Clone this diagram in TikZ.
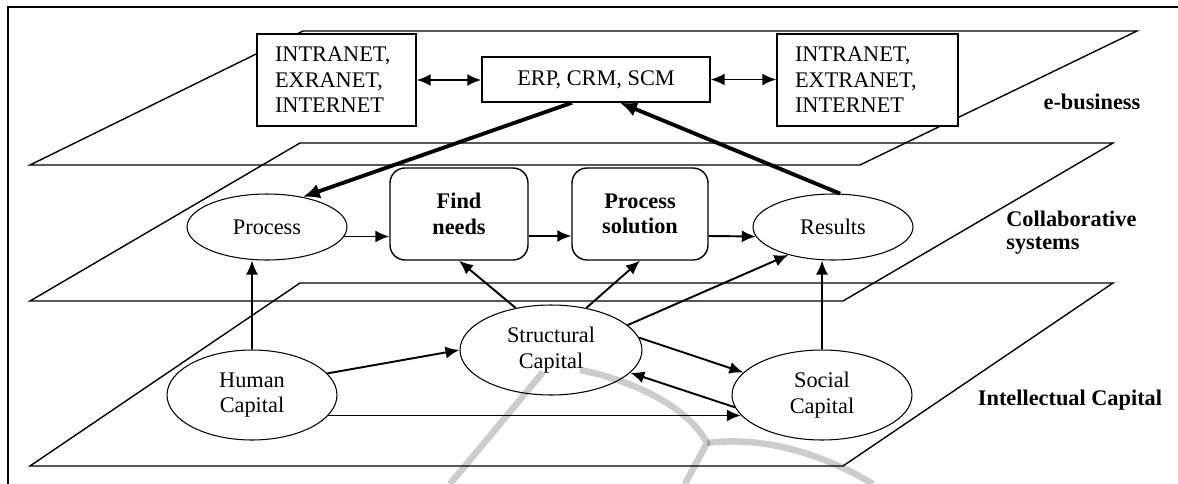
\documentclass[tikz,border=0pt]{standalone}
\usepackage{fontspec}
\setmainfont{Liberation Serif}
\usetikzlibrary{shapes.geometric,arrows.meta,calc}
\begin{document}
\begin{tikzpicture}[x=0.02cm,y=-0.02cm,
 every node/.style={font=\fontsize{12.7}{14.5}\selectfont},
 plane/.style={draw=black,line width=0.8pt,line join=miter},
 sqbox/.style={draw,fill=white,line width=0.8pt,inner sep=0pt},
 rbox/.style={draw,fill=white,rounded corners=0.3cm,line width=0.8pt,minimum width=2.76cm,minimum height=1.84cm,align=center,inner sep=0pt,font=\fontsize{12.7}{14.5}\selectfont\bfseries},
 ell/.style={ellipse,draw,fill=white,line width=0.6pt,inner sep=0pt,align=center},
 arr/.style={-{Latex[length=0.28cm,width=0.24cm]},line width=1.1pt},
 thickarr/.style={-{Latex[length=0.34cm,width=0.3cm]},line width=2.2pt},
 dbl/.style={{Latex[length=0.28cm,width=0.24cm]}-{Latex[length=0.28cm,width=0.24cm]},line width=1.1pt},
 lab/.style={font=\fontsize{12.7}{13}\selectfont\bfseries,inner sep=0pt},
 wm/.style={line width=0.13cm,draw=black,opacity=0.2,line cap=butt}
]
\useasboundingbox (0,0) rectangle (1178,484);
% frame
\draw[line width=1.2pt] (8,484) -- (8,7) -- (1178,7);
% planes
\draw[plane] (30,165) -- (303,31) -- (1137,31) -- (860,165) -- cycle;
\draw[plane] (30,301) -- (300,143) -- (1113,143) -- (843,301) -- cycle;
\draw[plane] (30,466) -- (300,283) -- (1113,283) -- (843,466) -- cycle;
% e-business layer
\node[sqbox, minimum height=1.84cm, text width=2.46cm, align=left, inner xsep=0.36cm] (lnet) at (336.5,80) {INTRANET,\\EXRANET,\\INTERNET};
\node[sqbox, minimum width=4.56cm, minimum height=0.9cm] (erp) at (596,79.5) {ERP, CRM, SCM};
\node[sqbox, minimum height=1.84cm, text width=2.9cm, align=left, inner xsep=0.36cm] (rnet) at (867.5,80) {INTRANET,\\EXTRANET,\\INTERNET};
% collaborative layer
\node[ell, minimum width=3.2cm, minimum height=1.32cm] (proc) at (267,227) {Process};
\node[rbox] (find) at (459,214) {Find\\needs};
\node[rbox, minimum width=2.72cm] (psol) at (640,214) {Process\\solution};
\node[ell, minimum width=3.2cm, minimum height=1.32cm] (res) at (833,227) {Results};
% intellectual capital layer
\node[ell, minimum width=3.4cm, minimum height=1.8cm] (hum) at (252,395) {Human\\Capital};
\node[ell, minimum width=3.64cm, minimum height=1.8cm] (str) at (551,350) {Structural\\Capital};
\node[ell, minimum width=3.6cm, minimum height=1.8cm] (soc) at (822,395) {Social\\Capital};
% layer labels
\node[lab] (lebus) at (1092,102) {e-business};
\node[lab, anchor=west, align=left] (lcoll) at (1006,233) {Collaborative\\systems};
\node[lab] (lic) at (1070,400) {Intellectual Capital};
% connectors
\draw[dbl] (lnet.east) -- (lnet.east -| erp.west);
\draw[dbl] (erp.east) -- (erp.east -| rnet.west);
\draw[thickarr] ([xshift=-0.48cm]erp.south) -- (proc.40);
\draw[thickarr] (res.78) -- ([xshift=0.48cm]erp.south);
\draw[arr] (proc.-7) -- (proc.-7 -| find.west);
\draw[arr] ([yshift=-0.44cm]find.east) -- ([yshift=-0.44cm]psol.west);
\draw[arr] ([yshift=-0.44cm]psol.east) -- (res.187);
\draw[arr] (hum.north) -- (hum.north |- proc.south);
\draw[arr] (soc.north) -- (soc.north |- res.south);
\draw[arr] (str.130) -- (find.south);
\draw[arr] (str.50) -- (psol.south);
\draw[arr] (str.18) -- (res.212);
\draw[arr] (hum.16) -- (str.west);
\draw[arr] (str.8) -- (soc.164);
\draw[arr] (soc.188) -- (str.-16);
\draw[arr] (hum.-15) -- (hum.-15 -| soc.194);
% watermark
\draw[wm] (543,372) -- (450,484);
\draw[wm] (580,370) .. controls (640,382) and (690,410) .. (707,443) -- (685,484);
\draw[wm] (707,443) .. controls (760,436) and (820,452) .. (873,484);
\end{tikzpicture}
\end{document}
